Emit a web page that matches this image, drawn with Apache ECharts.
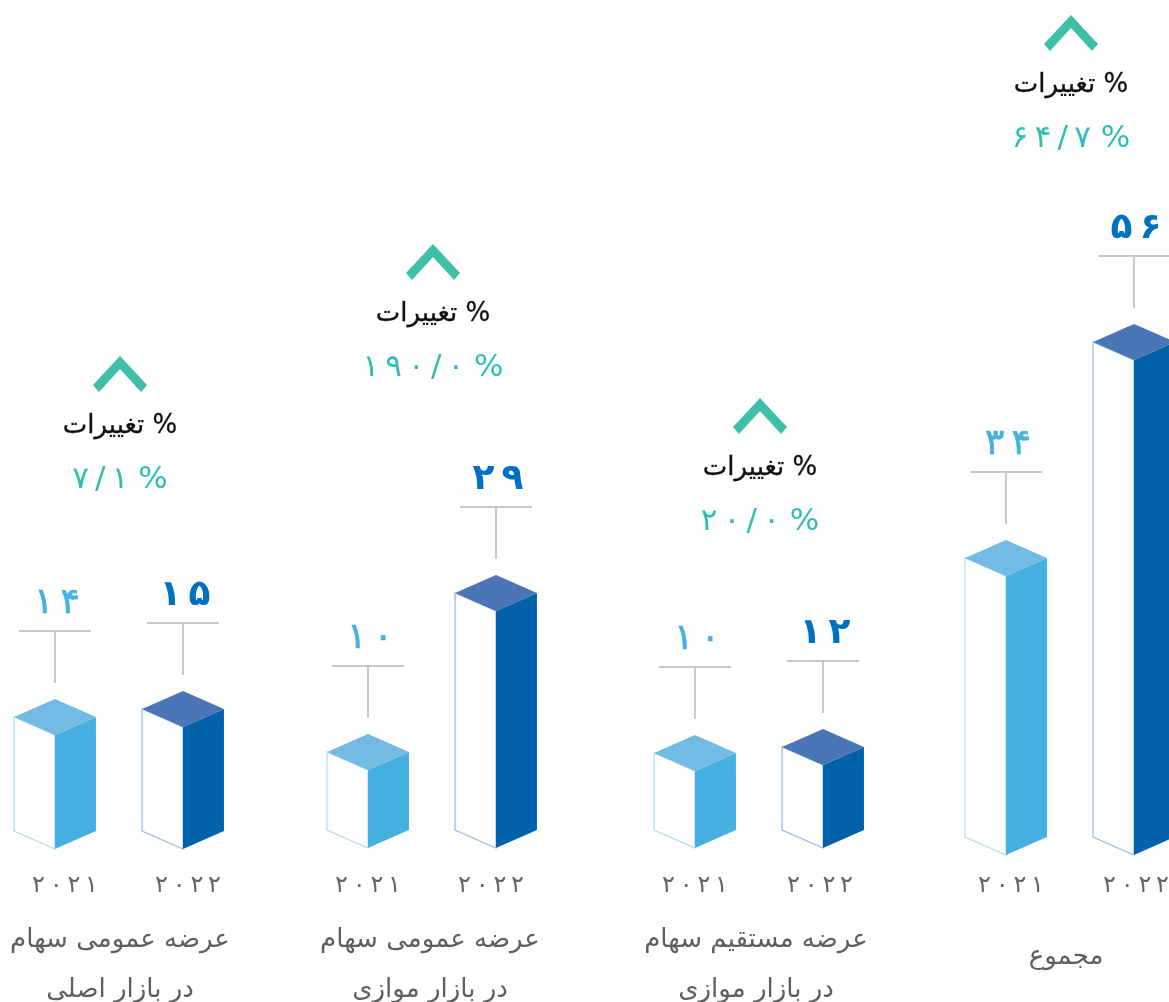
<!DOCTYPE html>
<html>
<head>
<meta charset="utf-8">
<title>chart</title>
<script src="https://cdn.jsdelivr.net/npm/echarts@6/dist/echarts.min.js"></script>
<style>
  html, body { margin: 0; padding: 0; background: #fff; }
  #main { width: 1169px; height: 1002px; }
</style>
</head>
<body>
<div id="main"></div>
<script>
const years = ['2021', '2022']
const groupNames = [
  'عرضه عمومی سهام\nدر بازار اصلی',
  'عرضه عمومی سهام\nدر بازار موازی',
  'عرضه مستقیم سهام\nدر بازار موازی',
  'مجموع'
]
const values2021 = [14, 10, 10, 34]
const values2022 = [15, 29, 12, 56]
const changes = [7.1, 190.0, 20.0, 64.7]
const changeTitle = 'تغییرات %'

// every group is its own panel with its own hidden value scale
const axisMin = [-0.25, 0.68, -15.67, 5.58]
const axisMax = [61.375, 72.86, 134.33, 91.14]
const gridLeft = [-9, 304, 631, 942]
const gridTop = [356, 244, 398, 15]
const gridBase = [849, 848, 848, 855]
const yearShift = [[10, 5], [0, -5], [0, -3], [5, 2]]
const nameShift = [1, -2, -3, -4]

const FONT = '"DejaVu Sans", sans-serif'
const COLORS = [
  { side: '#45b1e0', top: '#74bbe4', edge: '#b4dff2', text: '#45b1e0', weight: 'normal', outline: 0.7 },
  { side: '#0062a9', top: '#4b76b5', edge: '#9dbfe0', text: '#0070c0', weight: 'bold', outline: 0 }
]

// 0-9 to persian digits
function fa(s) {
  return String(s).replace(/\d/g, d => '۰۱۲۳۴۵۶۷۸۹'[d]).replace('.', '/')
}
function spaced(s) {
  return s.split('').join('\u2009')
}
// padding moves a centred label sideways by half of its value
function sidePadding(dx) {
  return dx > 0 ? [0, 0, 0, dx * 2] : [0, -dx * 2, 0, 0]
}

function renderBar(g) {
  return function (params, api) {
    let idx = api.value(0)
    let top = api.coord([idx, api.value(1)])
    let base = api.coord([idx, axisMin[g]])
    let half = api.size([1, 0])[0] * 0.32
    let dy = half * 0.44
    let c = COLORS[idx]
    let x = top[0]
    let y = top[1]
    let apex = y - dy * 2
    return {
      type: 'group',
      children: [
        {
          type: 'polygon',
          shape: { points: [[x - half, y - dy], [x, y], [x, base[1]], [x - half, base[1] - dy]] },
          style: { fill: '#fff', stroke: c.edge, lineWidth: 1.3 }
        },
        {
          type: 'polygon',
          shape: { points: [[x, y], [x + half, y - dy], [x + half, base[1] - dy], [x, base[1]]] },
          style: { fill: c.side }
        },
        {
          type: 'polygon',
          shape: { points: [[x, apex], [x + half, y - dy], [x, y], [x - half, y - dy]] },
          style: { fill: c.top }
        },
        {
          type: 'line',
          shape: { x1: x, y1: apex - 16, x2: x, y2: apex - 68 },
          style: { stroke: '#c8c8c8', lineWidth: 2 }
        },
        {
          type: 'line',
          shape: { x1: x - 36, y1: apex - 68, x2: x + 36, y2: apex - 68 },
          style: { stroke: '#c8c8c8', lineWidth: 2 }
        },
        {
          type: 'text',
          style: {
            x: x + 2,
            y: apex - 95,
            text: spaced(fa(api.value(1))),
            align: 'center',
            verticalAlign: 'middle',
            fill: c.text,
            stroke: c.text,
            lineWidth: c.outline,
            fontFamily: FONT,
            fontSize: 36,
            fontWeight: c.weight
          }
        }
      ]
    }
  }
}

function renderChange(params, api) {
  let cs = params.coordSys
  let x = cs.x + cs.width / 2 + 1
  let y = cs.y
  let chevron = [[0, 0], [27, 29], [21, 36], [0, 13], [-21, 36], [-27, 29]]
  return {
    type: 'group',
    children: [
      {
        type: 'polygon',
        shape: { points: chevron.map(p => [x + p[0], y + p[1]]) },
        style: { fill: '#40bfa8' }
      },
      {
        type: 'text',
        style: {
          x: x, y: y + 70, text: changeTitle, align: 'center', verticalAlign: 'middle',
          fill: '#111', stroke: '#111', lineWidth: 0.3, fontFamily: FONT, fontSize: 26
        }
      },
      {
        type: 'text',
        style: {
          x: x, y: y + 124, text: spaced(fa(api.value(1).toFixed(1))) + ' %',
          align: 'center', verticalAlign: 'middle',
          fill: '#2fbdb5', fontFamily: FONT, fontSize: 31
        }
      }
    ]
  }
}

let grid = []
let xAxis = []
let yAxis = []
let series = []
groupNames.forEach((name, g) => {
  grid.push({
    left: gridLeft[g],
    width: 256,
    top: gridTop[g],
    height: gridBase[g] - gridTop[g],
    outerBoundsMode: 'none'
  })
  let twoLines = name.indexOf('\n') > 0
  xAxis.push({
    type: 'category',
    gridIndex: g,
    data: years.map((y, i) => ({
      value: y,
      textStyle: { padding: sidePadding(yearShift[g][i]) }
    })),
    axisLine: { show: false },
    axisTick: { show: false },
    axisLabel: {
      margin: 874 - gridBase[g],
      formatter: v => spaced(fa(v)),
      color: '#666',
      fontFamily: FONT,
      fontSize: 24
    },
    name: name,
    nameLocation: 'middle',
    nameGap: (twoLines ? 915 : 932) - gridBase[g],
    nameTextStyle: {
      color: '#5f5f5f',
      fontFamily: FONT,
      fontSize: 26,
      lineHeight: 50,
      verticalAlign: 'top',
      padding: sidePadding(nameShift[g])
    }
  })
  yAxis.push({ type: 'value', gridIndex: g, min: axisMin[g], max: axisMax[g], show: false })
  series.push({
    type: 'custom',
    xAxisIndex: g,
    yAxisIndex: g,
    renderItem: renderBar(g),
    encode: { x: 0, y: 1 },
    data: [[0, values2021[g]], [1, values2022[g]]]
  })
  series.push({
    type: 'custom',
    xAxisIndex: g,
    yAxisIndex: g,
    renderItem: renderChange,
    encode: { x: 0, y: 1 },
    data: [[0, changes[g]]]
  })
})

let myChart = echarts.init(document.getElementById('main'))
myChart.setOption({
  animation: false,
  backgroundColor: '#fff',
  grid: grid,
  xAxis: xAxis,
  yAxis: yAxis,
  series: series
})
</script>
</body>
</html>
